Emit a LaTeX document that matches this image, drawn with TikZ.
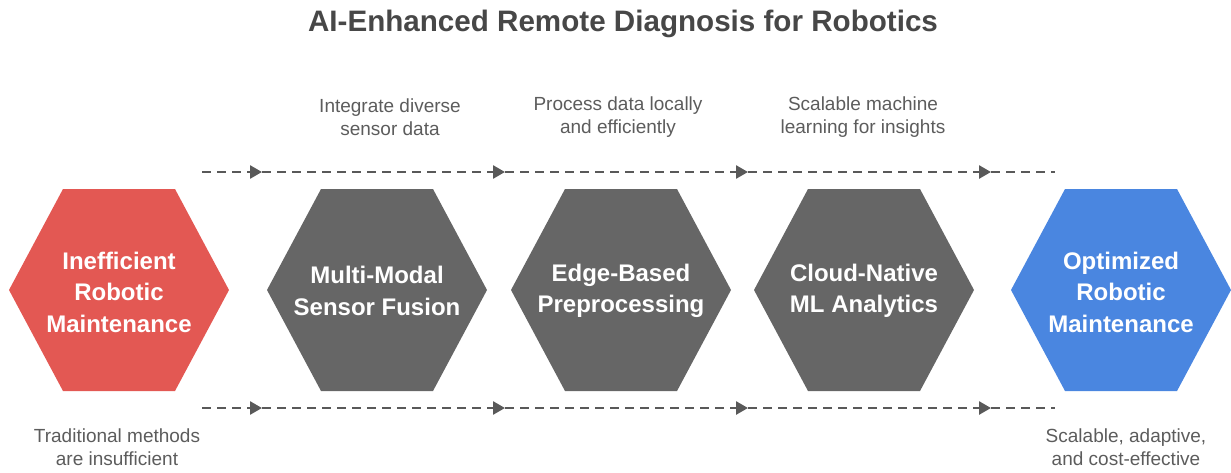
\documentclass[tikz,border=0pt]{standalone}
\usepackage{fontspec}
\setmainfont{Liberation Sans}
\usetikzlibrary{arrows.meta}
\definecolor{redhex}{HTML}{E35853}
\definecolor{bluehex}{HTML}{4A86E0}
\definecolor{grayhex}{HTML}{666666}
\definecolor{linegray}{HTML}{595959}
\definecolor{textgray}{HTML}{5C5C5C}
\definecolor{titlegray}{HTML}{474747}
\begin{document}
\begin{tikzpicture}[x=1pt,y=-1pt,
  hexa/.pic={\fill (-110,0) -- (-56,-101) -- (56,-101) -- (110,0) -- (56,101) -- (-56,101) -- cycle;},
  hexlabel/.style={text=white, font=\bfseries\fontsize{24}{31.5}\selectfont, align=center, inner sep=0pt},
  note/.style={text=textgray, font=\fontsize{19}{23}\selectfont, align=center, inner sep=0pt},
  flow/.style={draw=linegray, line width=2.6pt, dash pattern=on 9pt off 6pt,
    -{Triangle[length=12pt,width=13pt]}},
  tail/.style={draw=linegray, line width=2.6pt, dash pattern=on 9pt off 6pt},
]
\useasboundingbox (0,0) rectangle (1231,472);

% title
\node[font=\bfseries\fontsize{29.6}{36}\selectfont, text=titlegray, anchor=base, inner sep=0pt]
  (title) at (623,31.5) {AI-Enhanced Remote Diagnosis for Robotics};

% hexagons
\pic[color=redhex]  at (119,290)  {hexa};
\pic[color=grayhex] at (377,290)  {hexa};
\pic[color=grayhex] at (621,290)  {hexa};
\pic[color=grayhex] at (864,290)  {hexa};
\pic[color=bluehex] at (1121,290) {hexa};

\node[hexlabel] (start) at (119,292)  {Inefficient\\Robotic\\Maintenance};
\node[hexlabel] (fusion) at (377,291) {Multi-Modal\\Sensor Fusion};
\node[hexlabel] (edge) at (621,291)   {Edge-Based\\Preprocessing};
\node[hexlabel] (cloud) at (864,291)  {Cloud-Native\\ML Analytics};
\node[hexlabel] (goal) at (1121,292)  {Optimized\\Robotic\\Maintenance};

% notes
\node[note] (n1) at (390,117)  {Integrate diverse\\sensor data};
\node[note] (n2) at (618,117)  {Process data locally\\and efficiently};
\node[note] (n3) at (863,117)  {Scalable machine\\learning for insights};
\node[note] (n0) at (117,447)  {Traditional methods\\are insufficient};
\node[note] (n4) at (1126,447) {Scalable, adaptive,\\and cost-effective};

% dashed flow lines
\foreach \row/\y in {t/172, b/408} {
  \coordinate (\row0) at (202,\y);
  \coordinate (\row1) at (262,\y);
  \coordinate (\row2) at (505,\y);
  \coordinate (\row3) at (748,\y);
  \coordinate (\row4) at (991,\y);
  \coordinate (\row5) at (1055,\y);
  \draw[flow] (\row0) -- (\row1);
  \draw[flow] (\row1) -- (\row2);
  \draw[flow] (\row2) -- (\row3);
  \draw[flow] (\row3) -- (\row4);
  \draw[tail] (\row4) -- (\row5);
}
\end{tikzpicture}
\end{document}
